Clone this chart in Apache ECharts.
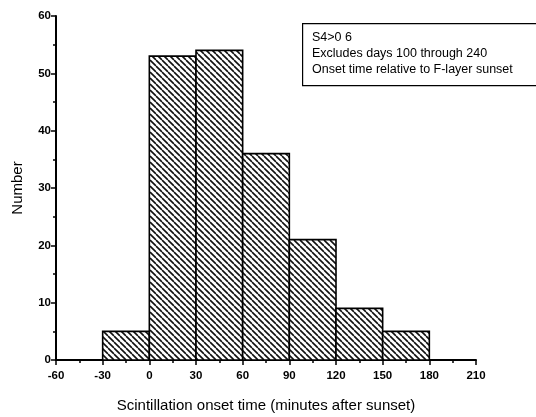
<!DOCTYPE html>
<html>
<head>
<meta charset="utf-8">
<script src="https://cdn.jsdelivr.net/npm/echarts@6/dist/echarts.min.js"></script>
<style>
html,body{margin:0;padding:0;background:#fff;}
#main{width:536px;height:417px;}
</style>
</head>
<body>
<div id="main"></div>
<script>
// Histogram bins (minutes after sunset) and counts
const binStarts = [-30, 0, 30, 60, 90, 120, 150];
const binEnds   = [0, 30, 60, 90, 120, 150, 180];
const counts    = [5, 53, 54, 36, 21, 9, 5];
const xTicks = [-60, -30, 0, 30, 60, 90, 120, 150, 180, 210];
const yTicks = [0, 10, 20, 30, 40, 50, 60];
const legendLines = ['S4>0 6', 'Excludes days 100 through 240', 'Onset time relative to F-layer sunset'];
const xTitle = 'Scintillation onset time (minutes after sunset)';
const yTitle = 'Number';

// hatch pattern "\\\"
const pc = document.createElement('canvas');
const s = 6;
pc.width = s; pc.height = s;
const g = pc.getContext('2d');
g.fillStyle = '#fff'; g.fillRect(0, 0, s, s);
g.strokeStyle = '#111'; g.lineWidth = 1.6;
g.beginPath();
for (let k = -1; k <= 1; k++) { g.moveTo(k * s, 0); g.lineTo(k * s + s, s); }
g.stroke();

const data = binStarts.map((b, i) => [b, binEnds[i], counts[i]]);

const chart = echarts.init(document.getElementById('main'), null, {renderer: 'canvas'});
const font = '"Liberation Sans", Arial, sans-serif';
chart.setOption({
  animation: false,
  grid: {left: 56, right: 60, top: 16, bottom: 57, containLabel: false, outerBoundsMode: 'none'},
  xAxis: {
    type: 'value', min: xTicks[0], max: xTicks[xTicks.length - 1], interval: 30,
    axisLine: {show: true, onZero: false, lineStyle: {color: '#000', width: 2}},
    axisTick: {show: true, length: 5, lineStyle: {color: '#000', width: 1.5}},
    minorTick: {show: true, splitNumber: 2, length: 3, lineStyle: {color: '#000', width: 1.5}},
    splitLine: {show: false},
    axisLabel: {color: '#000', fontFamily: font, fontSize: 11.5, fontWeight: 'bold', margin: 10},
    name: xTitle, nameLocation: 'middle', nameGap: 38,
    nameTextStyle: {color: '#000', fontFamily: font, fontSize: 15}
  },
  yAxis: {
    type: 'value', min: yTicks[0], max: yTicks[yTicks.length - 1], interval: 10,
    axisLine: {show: true, onZero: false, lineStyle: {color: '#000', width: 2}},
    axisTick: {show: true, length: 5, lineStyle: {color: '#000', width: 1.5}},
    minorTick: {show: true, splitNumber: 2, length: 3, lineStyle: {color: '#000', width: 1.5}},
    splitLine: {show: false},
    axisLabel: {color: '#000', fontFamily: font, fontSize: 11.5, fontWeight: 'bold', margin: 5},
    name: yTitle, nameLocation: 'middle', nameGap: 31,
    nameTextStyle: {color: '#000', fontFamily: font, fontSize: 15}
  },
  series: [{
    type: 'custom',
    data: data,
    encode: {x: [0, 1], y: 2},
    renderItem: function (params, api) {
      const p0 = api.coord([api.value(0), api.value(2)]);
      const p1 = api.coord([api.value(1), 0]);
      return {
        type: 'rect',
        shape: {x: p0[0], y: p0[1], width: p1[0] - p0[0], height: p1[1] - p0[1]},
        style: {fill: {image: pc, repeat: 'repeat'}, stroke: '#000', lineWidth: 1.6}
      };
    },
    z: 1
  }],
  graphic: [
    {type: 'rect', left: 302, top: 23, shape: {width: 240, height: 62},
     style: {fill: '#fff', stroke: '#000', lineWidth: 1.2}, z: 10},
    {type: 'text', x: 312, y: 38, z: 11,
     style: {text: legendLines[0], fill: '#000', font: '12.5px ' + font, verticalAlign: 'middle'}},
    {type: 'text', x: 312, y: 54, z: 11,
     style: {text: legendLines[1], fill: '#000', font: '12.5px ' + font, verticalAlign: 'middle'}},
    {type: 'text', x: 312, y: 70, z: 11,
     style: {text: legendLines[2], fill: '#000', font: '12.5px ' + font, verticalAlign: 'middle'}}
  ]
});
</script>
</body>
</html>
